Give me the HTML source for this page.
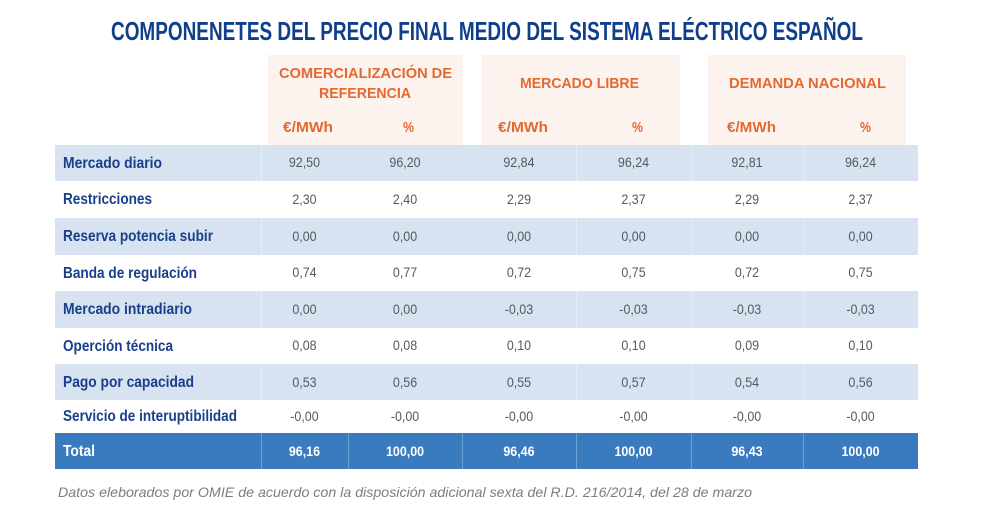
<!DOCTYPE html>
<html><head><meta charset="utf-8"><style>
html,body{margin:0;padding:0;background:#fff;width:1000px;height:527px;overflow:hidden}
svg{display:block}
.t{font-family:"Liberation Sans",sans-serif}
</style></head><body>
<svg width="1000" height="527" viewBox="0 0 1000 527" xmlns="http://www.w3.org/2000/svg">
<rect width="1000" height="527" fill="#ffffff"/>
<!-- Title -->
<text class="t" x="111" y="40" font-size="26" font-weight="bold" fill="#0f3f8c" textLength="752" lengthAdjust="spacingAndGlyphs">COMPONENETES DEL PRECIO FINAL MEDIO DEL SISTEMA ELÉCTRICO ESPAÑOL</text>

<!-- Header boxes -->
<rect x="268" y="55" width="195" height="90" fill="#fdf3ee"/>
<rect x="482" y="55" width="198" height="90" fill="#fdf3ee"/>
<rect x="708" y="55" width="198" height="90" fill="#fdf3ee"/>

<g class="t" fill="#e2692f" font-size="15" font-weight="bold">
<text x="279" y="78" textLength="173" lengthAdjust="spacingAndGlyphs">COMERCIALIZACIÓN DE</text>
<text x="319" y="98" textLength="92" lengthAdjust="spacingAndGlyphs">REFERENCIA</text>
<text x="520" y="88" textLength="119" lengthAdjust="spacingAndGlyphs">MERCADO LIBRE</text>
<text x="729" y="88" textLength="157" lengthAdjust="spacingAndGlyphs">DEMANDA NACIONAL</text>
<text x="283" y="132" textLength="50" lengthAdjust="spacingAndGlyphs">€/MWh</text>
<text x="403" y="132" textLength="11" lengthAdjust="spacingAndGlyphs">%</text>
<text x="498" y="132" textLength="50" lengthAdjust="spacingAndGlyphs">€/MWh</text>
<text x="632" y="132" textLength="11" lengthAdjust="spacingAndGlyphs">%</text>
<text x="727" y="132" textLength="49" lengthAdjust="spacingAndGlyphs">€/MWh</text>
<text x="860" y="132" textLength="11" lengthAdjust="spacingAndGlyphs">%</text>
</g>

<!-- Row backgrounds -->
<rect x="55" y="145" width="863" height="36" fill="#d7e3f0"/>
<rect x="55" y="218" width="863" height="37" fill="#d7e3f0"/>
<rect x="55" y="291" width="863" height="37" fill="#d7e3f0"/>
<rect x="55" y="364" width="863" height="36" fill="#d7e3f0"/>
<rect x="55" y="433" width="863" height="36" fill="#3a7bbf"/>

<!-- separators light rows -->
<g stroke="#e6edf6" stroke-width="1">
<line x1="261.5" y1="145" x2="261.5" y2="181"/><line x1="576.5" y1="145" x2="576.5" y2="181"/><line x1="691.5" y1="145" x2="691.5" y2="181"/><line x1="803.5" y1="145" x2="803.5" y2="181"/>
<line x1="261.5" y1="218" x2="261.5" y2="255"/><line x1="576.5" y1="218" x2="576.5" y2="255"/><line x1="691.5" y1="218" x2="691.5" y2="255"/><line x1="803.5" y1="218" x2="803.5" y2="255"/>
<line x1="261.5" y1="291" x2="261.5" y2="328"/><line x1="576.5" y1="291" x2="576.5" y2="328"/><line x1="691.5" y1="291" x2="691.5" y2="328"/><line x1="803.5" y1="291" x2="803.5" y2="328"/>
<line x1="261.5" y1="364" x2="261.5" y2="400"/><line x1="576.5" y1="364" x2="576.5" y2="400"/><line x1="691.5" y1="364" x2="691.5" y2="400"/><line x1="803.5" y1="364" x2="803.5" y2="400"/>
</g>
<g stroke="#6c9fd3" stroke-width="1">
<line x1="261.5" y1="433" x2="261.5" y2="469"/><line x1="348.5" y1="433" x2="348.5" y2="469"/><line x1="462.5" y1="433" x2="462.5" y2="469"/><line x1="576.5" y1="433" x2="576.5" y2="469"/><line x1="691.5" y1="433" x2="691.5" y2="469"/><line x1="803.5" y1="433" x2="803.5" y2="469"/>
</g>

<!-- Row labels -->
<g class="t" fill="#1a3f8b" font-size="16" font-weight="bold">
<text x="63" y="168" textLength="99" lengthAdjust="spacingAndGlyphs">Mercado diario</text>
<text x="63" y="204" textLength="89" lengthAdjust="spacingAndGlyphs">Restricciones</text>
<text x="63" y="241" textLength="150" lengthAdjust="spacingAndGlyphs">Reserva potencia subir</text>
<text x="63" y="278" textLength="134" lengthAdjust="spacingAndGlyphs">Banda de regulación</text>
<text x="63" y="314" textLength="129" lengthAdjust="spacingAndGlyphs">Mercado intradiario</text>
<text x="63" y="351" textLength="110" lengthAdjust="spacingAndGlyphs">Operción técnica</text>
<text x="63" y="387" textLength="131" lengthAdjust="spacingAndGlyphs">Pago por capacidad</text>
<text x="63" y="421" textLength="174" lengthAdjust="spacingAndGlyphs">Servicio de interuptibilidad</text>
<text x="63" y="456" textLength="32" lengthAdjust="spacingAndGlyphs" fill="#ffffff">Total</text>
</g>

<!-- Values (scaled horizontally) -->
<g transform="scale(0.89,1)" class="t" font-size="14" fill="#555a60" text-anchor="middle">
<!-- x = center/0.89: 342.1, 455.1, 583.1, 711.8, 839.3, 966.9 -->
<text x="342.1" y="167">92,50</text><text x="455.1" y="167">96,20</text><text x="583.1" y="167">92,84</text><text x="711.8" y="167">96,24</text><text x="839.3" y="167">92,81</text><text x="966.9" y="167">96,24</text>
<text x="342.1" y="204">2,30</text><text x="455.1" y="204">2,40</text><text x="583.1" y="204">2,29</text><text x="711.8" y="204">2,37</text><text x="839.3" y="204">2,29</text><text x="966.9" y="204">2,37</text>
<text x="342.1" y="241">0,00</text><text x="455.1" y="241">0,00</text><text x="583.1" y="241">0,00</text><text x="711.8" y="241">0,00</text><text x="839.3" y="241">0,00</text><text x="966.9" y="241">0,00</text>
<text x="342.1" y="277">0,74</text><text x="455.1" y="277">0,77</text><text x="583.1" y="277">0,72</text><text x="711.8" y="277">0,75</text><text x="839.3" y="277">0,72</text><text x="966.9" y="277">0,75</text>
<text x="342.1" y="314">0,00</text><text x="455.1" y="314">0,00</text><text x="583.1" y="314">-0,03</text><text x="711.8" y="314">-0,03</text><text x="839.3" y="314">-0,03</text><text x="966.9" y="314">-0,03</text>
<text x="342.1" y="350">0,08</text><text x="455.1" y="350">0,08</text><text x="583.1" y="350">0,10</text><text x="711.8" y="350">0,10</text><text x="839.3" y="350">0,09</text><text x="966.9" y="350">0,10</text>
<text x="342.1" y="387">0,53</text><text x="455.1" y="387">0,56</text><text x="583.1" y="387">0,55</text><text x="711.8" y="387">0,57</text><text x="839.3" y="387">0,54</text><text x="966.9" y="387">0,56</text>
<text x="342.1" y="421">-0,00</text><text x="455.1" y="421">-0,00</text><text x="583.1" y="421">-0,00</text><text x="711.8" y="421">-0,00</text><text x="839.3" y="421">-0,00</text><text x="966.9" y="421">-0,00</text>
<g fill="#ffffff" font-weight="bold">
<text x="342.1" y="456">96,16</text><text x="455.1" y="456">100,00</text><text x="583.1" y="456">96,46</text><text x="711.8" y="456">100,00</text><text x="839.3" y="456">96,43</text><text x="966.9" y="456">100,00</text>
</g>
</g>

<!-- Footer -->
<text class="t" x="58" y="497" font-size="14" font-style="italic" fill="#7d7d7d" textLength="694" lengthAdjust="spacingAndGlyphs">Datos eleborados por OMIE de acuerdo con la disposición adicional sexta del R.D. 216/2014, del 28 de marzo</text>
</svg>
</body></html>
